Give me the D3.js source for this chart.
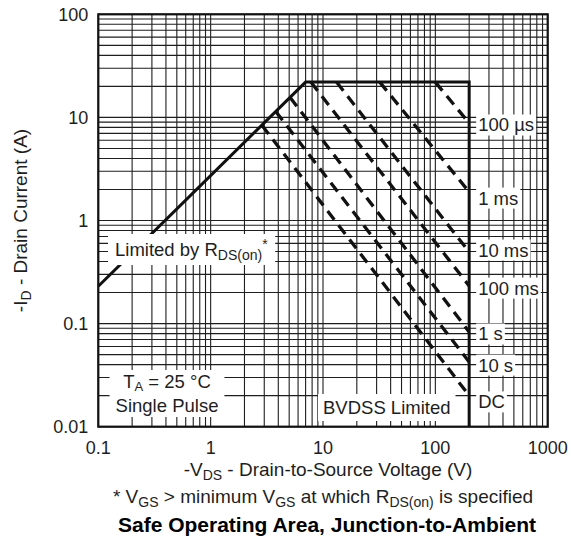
<!DOCTYPE html>
<html><head><meta charset="utf-8">
<script src="https://cdn.jsdelivr.net/npm/d3@7"></script>
<style>
html,body{margin:0;padding:0;background:#fff}
svg{display:block;font-family:"Liberation Sans",Arial,sans-serif}
</style></head>
<body><svg id="chart" width="572" height="541"></svg>
<script>
// axis ticks
const xTicks=[0.1,1,10,100,1000];
const yTicks=[0.01,0.1,1,10,100];
const xTickLabels=['0.1','1','10','100','1000'];
const yTickLabels=['0.01','0.1','1','10','100'];
// solid boundary: RDS(on) limit, current limit, BVDSS limit
const boundaryV=[0.1,7,200,200];
const boundaryI=[0.23,22,22,0.01];
// pulse width lines (dashed)
const pulseLabels=['100 µs','1 ms','10 ms','100 ms','1 s','10 s','DC'];
const pulseStartV=[100,32,13.2,7.8,5.1,3.8,2.86];
const pulseStartI=[22,22,22,22,15.6,11.4,8.4];
const pulseEndV=[200,200,200,200,200,200,200];
const pulseEndI=[8.8,1.89,0.495,0.232,0.083,0.0425,0.02];
const labelI=[8.44,1.65,0.517,0.221,0.0793,0.0396,0.0174];

const svg=d3.select('#chart');
const m={l:98.3,t:14.3,r:547.7,b:426.7};
const x=d3.scaleLog().domain([0.1,1000]).range([m.l,m.r]);
const y=d3.scaleLog().domain([0.01,100]).range([m.b,m.t]);
const ink='#1e1e1e';

// grid
const minor=(lo,hi)=>{const a=[];for(let d=lo;d<hi;d*=10)for(let k=1;k<=9;k++)a.push(d*k);a.push(hi);return a};
const g=svg.append('g').attr('stroke',ink).attr('stroke-width',1.1);
g.selectAll('.vx').data(minor(0.1,1000)).join('line')
  .attr('x1',d=>x(d)).attr('x2',d=>x(d)).attr('y1',m.t).attr('y2',m.b);
g.selectAll('.hy').data(minor(0.01,100)).join('line')
  .attr('y1',d=>y(d)).attr('y2',d=>y(d)).attr('x1',m.l).attr('x2',m.r);

// white box behind a group of texts
function boxed(parent,build,pad){
  const grp=parent.append('g');
  const r=grp.append('rect').attr('fill','#fff');
  build(grp);
  const b=grp.node().getBBox();
  r.attr('x',b.x-pad[0]).attr('y',b.y-pad[1]).attr('width',b.width+2*pad[0]).attr('height',b.height+2*pad[1]);
  return grp;
}
const txt=(p,px,py)=>p.append('text').attr('x',px).attr('y',py).attr('fill',ink).attr('font-size',18.5);

// lines
const line=d3.line().x(d=>x(d[0])).y(d=>y(d[1]));
svg.append('path').datum(boundaryV.map((v,i)=>[v,boundaryI[i]]))
  .attr('d',line).attr('fill','none').attr('stroke','#111').attr('stroke-width',3).attr('stroke-linejoin','miter');
pulseLabels.forEach((lab,i)=>{
  svg.append('path').datum([[pulseStartV[i],pulseStartI[i]],[pulseEndV[i],pulseEndI[i]]])
    .attr('d',line).attr('fill','none').attr('stroke','#111').attr('stroke-width',3.3)
    .attr('stroke-dasharray','11,7');
});

// pulse labels
pulseLabels.forEach((lab,i)=>{
  boxed(svg,p=>txt(p,x(200)+9,y(labelI[i])+6.5).text(lab),[2,0]);
});

// annotations
boxed(svg,p=>{
  const t=txt(p,115,256);
  t.append('tspan').text('Limited by R');
  t.append('tspan').attr('dy',4).attr('font-size',14).text('DS(on)');
  t.append('tspan').attr('dy',-11).attr('font-size',14).text('*');
},[7,2]);
boxed(svg,p=>{
  const t1=txt(p,167,388).attr('text-anchor','middle');
  t1.append('tspan').text('T');
  t1.append('tspan').attr('dy',3).attr('font-size',13).text('A');
  t1.append('tspan').attr('dy',-3).text(' = 25 °C');
  txt(p,167,412).attr('text-anchor','middle').text('Single Pulse');
},[6,1]);
boxed(svg,p=>txt(p,323,414).text('BVDSS Limited'),[5,3]);

// border
svg.append('rect').attr('x',m.l).attr('y',m.t).attr('width',m.r-m.l).attr('height',m.b-m.t)
  .attr('fill','none').attr('stroke','#111').attr('stroke-width',2.2);

// tick labels
svg.selectAll('.xt').data(xTicks).join('text').attr('x',d=>x(d)).attr('y',m.b+27)
  .attr('text-anchor','middle').attr('font-size',18).attr('fill',ink).text((d,i)=>xTickLabels[i]);
svg.selectAll('.yt').data(yTicks).join('text').attr('x',m.l-10).attr('y',d=>y(d)+6.5)
  .attr('text-anchor','end').attr('font-size',18).attr('fill',ink).text((d,i)=>yTickLabels[i]);

// axis titles
const xt=svg.append('text').attr('x',328).attr('y',476).attr('text-anchor','middle').attr('font-size',19).attr('fill',ink);
xt.append('tspan').text('-V');
xt.append('tspan').attr('dy',4).attr('font-size',14).text('DS');
xt.append('tspan').attr('dy',-4).text(' - Drain-to-Source Voltage (V)');

const yt=svg.append('text').attr('transform',`translate(27,${(m.t+m.b)/2}) rotate(-90)`).attr('text-anchor','middle').attr('font-size',19).attr('fill',ink);
yt.append('tspan').text('-I');
yt.append('tspan').attr('dy',4).attr('font-size',14).text('D');
yt.append('tspan').attr('dy',-4).text(' - Drain Current (A)');

const fn=svg.append('text').attr('x',323).attr('y',503).attr('text-anchor','middle').attr('font-size',19).attr('fill',ink);
fn.append('tspan').text('* V');
fn.append('tspan').attr('dy',4).attr('font-size',14).text('GS');
fn.append('tspan').attr('dy',-4).text(' >  minimum V');
fn.append('tspan').attr('dy',4).attr('font-size',14).text('GS');
fn.append('tspan').attr('dy',-4).text(' at which R');
fn.append('tspan').attr('dy',4).attr('font-size',14).text('DS(on)');
fn.append('tspan').attr('dy',-4).text(' is specified');

svg.append('text').attr('x',327).attr('y',532).attr('text-anchor','middle').attr('font-size',21)
  .attr('font-weight','bold').attr('fill','#000').text('Safe Operating Area, Junction-to-Ambient');
</script></body></html>
